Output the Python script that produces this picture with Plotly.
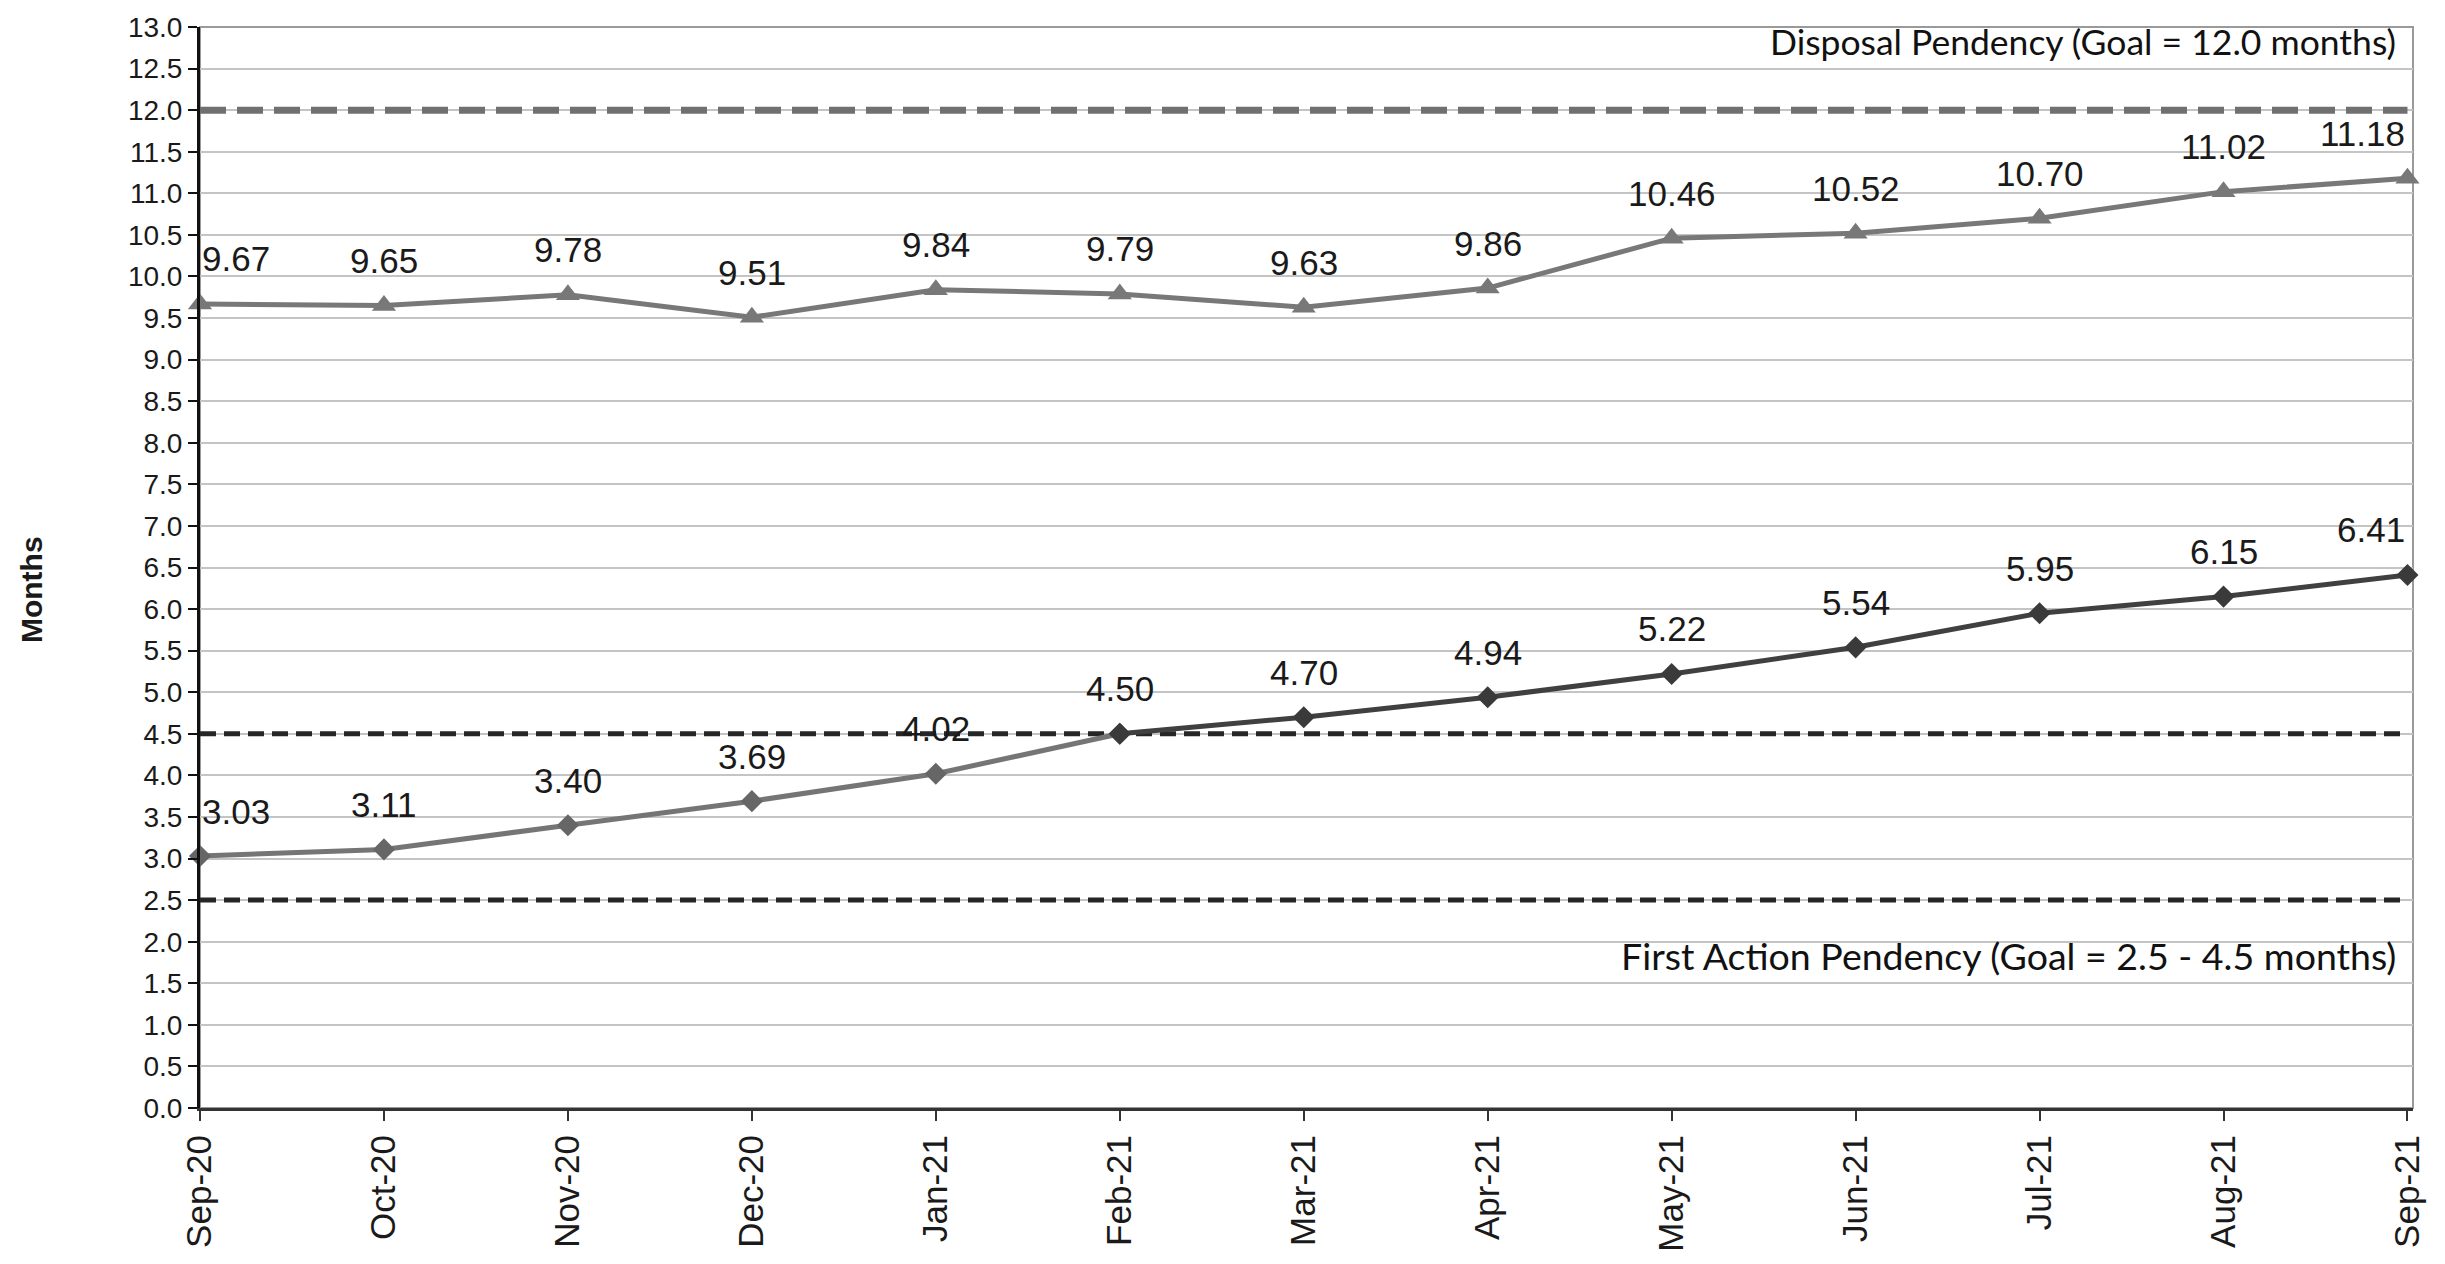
import plotly.graph_objects as go

months = ["Sep-20", "Oct-20", "Nov-20", "Dec-20", "Jan-21", "Feb-21", "Mar-21",
          "Apr-21", "May-21", "Jun-21", "Jul-21", "Aug-21", "Sep-21"]
disposal = [9.67, 9.65, 9.78, 9.51, 9.84, 9.79, 9.63, 9.86, 10.46, 10.52, 10.70, 11.02, 11.18]
first_action = [3.03, 3.11, 3.40, 3.69, 4.02, 4.50, 4.70, 4.94, 5.22, 5.54, 5.95, 6.15, 6.41]
disposal_goal = 12.0
first_action_goal = [2.5, 4.5]
split = 5  # first action line turns dark from Feb-21 on

W, H = 2445, 1264
ARIAL = "Liberation Sans, Arial, sans-serif"
CAL = "Lato, Open Sans, sans-serif"

fig = go.Figure()

# goal lines
fig.add_trace(go.Scatter(
    x=[months[0], months[-1]], y=[disposal_goal] * 2, mode="lines",
    line=dict(color="#707070", width=7, dash="26px,11px"),
    hoverinfo="skip", cliponaxis=False))
for g in first_action_goal:
    fig.add_trace(go.Scatter(
        x=[months[0], months[-1]], y=[g, g], mode="lines",
        line=dict(color="#262626", width=5, dash="16px,8px"),
        hoverinfo="skip", cliponaxis=False))

fig.add_trace(go.Scatter(
    x=months, y=disposal, mode="lines+markers", name="Disposal Pendency",
    line=dict(color="#787878", width=5),
    marker=dict(symbol="triangle-up", size=21, color="#787878"),
    cliponaxis=False))

fig.add_trace(go.Scatter(
    x=months[:split + 1], y=first_action[:split + 1], mode="lines+markers",
    line=dict(color="#757575", width=5),
    marker=dict(symbol="diamond", size=17, color="#666666"),
    cliponaxis=False))
fig.add_trace(go.Scatter(
    x=months[split:], y=first_action[split:], mode="lines+markers",
    line=dict(color="#404040", width=5),
    marker=dict(symbol="diamond", size=17, color="#3a3a3a"),
    cliponaxis=False))

# data labels
anns = []
for series in (disposal, first_action):
    for i, v in enumerate(series):
        xa = "center"
        if i == 0:
            xa = "left"
        elif i == len(series) - 1:
            xa = "right"
        anns.append(dict(x=months[i], y=v, text=f"{v:.2f}", showarrow=False,
                         xanchor=xa, yanchor="middle", yshift=45,
                         font=dict(family=ARIAL, size=35, color="#1a1a1a")))

anns.append(dict(xref="paper", x=0.993, y=12.82, text="Disposal Pendency (Goal = 12.0 months)",
                 showarrow=False, xanchor="right", yanchor="middle",
                 font=dict(family=CAL, size=35.5, color="#111111")))
anns.append(dict(xref="paper", x=0.993, y=1.83, text="First Action Pendency (Goal = 2.5 - 4.5 months)",
                 showarrow=False, xanchor="right", yanchor="middle",
                 font=dict(family=CAL, size=37.5, color="#111111")))
anns.append(dict(xref="paper", yref="paper", x=-0.0764, y=0.48, text="<b>Months</b>",
                 textangle=-90, showarrow=False, xanchor="center", yanchor="middle",
                 font=dict(family=ARIAL, size=30, color="#1a1a1a")))

# gray frame on top and right
shapes = [dict(type="rect", xref="paper", yref="paper", x0=0, x1=1, y0=0, y1=1,
               line=dict(color="#9a9a9a", width=2), layer="below")]

fig.update_layout(
    width=W, height=H,
    margin=dict(l=200, r=32, t=20, b=152),
    paper_bgcolor="white", plot_bgcolor="white",
    showlegend=False,
    annotations=anns, shapes=shapes,
    xaxis=dict(
        type="category", categoryorder="array", categoryarray=months,
        range=[0, 12.03],
        tickangle=-90, tickfont=dict(family=ARIAL, size=35, color="#1a1a1a"),
        showgrid=False, showline=True, linecolor="#333333", linewidth=3,
        ticks="outside", ticklen=10, tickwidth=2, tickcolor="#333333",
    ),
    yaxis=dict(
        range=[0, 13], dtick=0.5, tickformat=".1f",
        tickfont=dict(family=ARIAL, size=28, color="#1a1a1a"),
        showgrid=True, gridcolor="#c4c4c4", gridwidth=2,
        showline=True, linecolor="#111111", linewidth=3,
        ticks="outside", ticklen=9, tickwidth=2, tickcolor="#111111",
        zeroline=False,
    ),
)

# drop the default 8px page margin so the figure sits at the window corner
fig.write_html("out.html", config={"displayModeBar": False},
               post_script="document.body.style.margin='0';")
